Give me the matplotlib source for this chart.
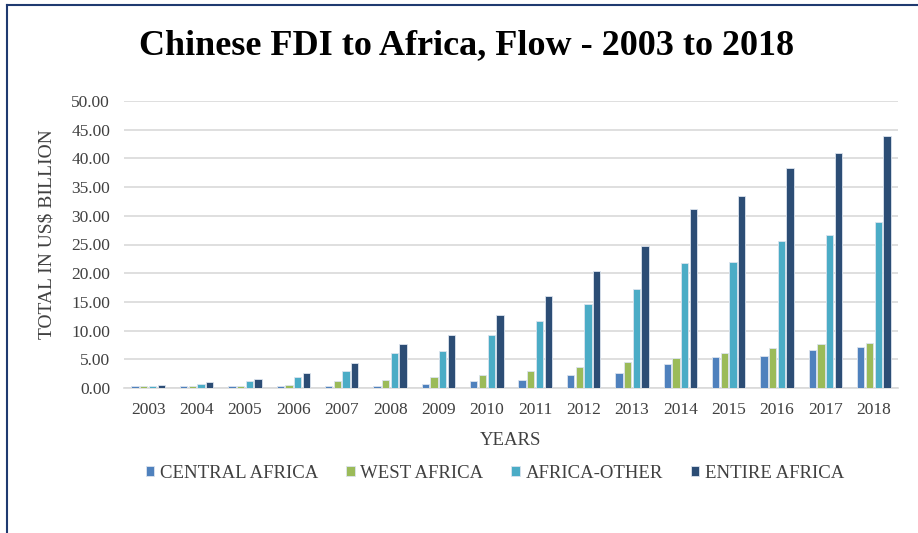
import matplotlib
matplotlib.use("Agg")
import matplotlib.pyplot as plt
import numpy as np
from matplotlib.lines import Line2D

years = ["2003", "2004", "2005", "2006", "2007", "2008", "2009", "2010",
         "2011", "2012", "2013", "2014", "2015", "2016", "2017", "2018"]
central_africa = [0.3, 0.3, 0.3, 0.3, 0.3, 0.3, 0.75, 1.2, 1.4, 2.3, 2.7, 4.1, 5.4, 5.6, 6.6, 7.2]
west_africa = [0.3, 0.3, 0.3, 0.5, 1.2, 1.4, 1.9, 2.3, 3.0, 3.7, 4.5, 5.2, 6.1, 7.0, 7.7, 7.9]
africa_other = [0.3, 0.75, 1.2, 1.9, 3.0, 6.1, 6.5, 9.2, 11.7, 14.6, 17.2, 21.7, 21.9, 25.6, 26.7, 28.9]
entire_africa = [0.5, 1.0, 1.6, 2.6, 4.4, 7.7, 9.2, 12.8, 16.0, 20.4, 24.7, 31.1, 33.4, 38.3, 41.0, 43.9]
series_names = ["CENTRAL AFRICA", "WEST AFRICA", "AFRICA-OTHER", "ENTIRE AFRICA"]
colors = ["#4F81BD", "#9BBB59", "#4BACC6", "#2C4D75"]
yticks = np.arange(0, 50.01, 5)

serif = ["Liberation Serif", "DejaVu Serif"]
plt.rcParams["font.family"] = serif

fig = plt.figure(figsize=(9.18, 5.33), dpi=100)
ax = fig.add_axes([124 / 918, 1 - 388 / 533, (898 - 124) / 918, (388 - 101) / 533])

x = np.arange(len(years))
width = 0.15
step = 0.18
offsets = (np.arange(4) - 1.5) * step
for data, name, col, off in zip([central_africa, west_africa, africa_other, entire_africa],
                                 series_names, colors, offsets):
    ax.bar(x + off, data, width=width, color=col, label=name,
           edgecolor="#DCE4EE", linewidth=0.6, zorder=3)

ax.set_xlim(-0.5, len(years) - 0.5)
ax.set_ylim(0, 50)
ax.set_yticks(yticks)
ax.set_yticklabels([f"{v:.2f}" for v in yticks], fontsize=12.5, color="#404040")
ax.set_xticks(x)
ax.set_xticklabels(years, fontsize=12.5, color="#404040")
ax.tick_params(axis="y", length=0, pad=10)
ax.tick_params(axis="x", length=0, pad=10)
ax.yaxis.grid(True, color="#D9D9D9", linewidth=1.2, zorder=0)
for s in ["top", "right", "left"]:
    ax.spines[s].set_visible(False)
ax.spines["bottom"].set_color("#D9D9D9")
ax.spines["bottom"].set_linewidth(1.2)

ax.set_ylabel("TOTAL IN US$ BILLION", fontsize=14, color="#404040")
ax.yaxis.set_label_coords(-0.089, 0.535)
ax.set_xlabel("YEARS", fontsize=13.5, color="#404040", labelpad=10)

fig.text(467 / 918, 1 - 46 / 533, "Chinese FDI to Africa, Flow - 2003 to 2018",
         ha="center", va="center", fontsize=26, fontweight="bold", color="#000000")

leg = fig.legend(loc="center", bbox_to_anchor=(495 / 918, 1 - 473 / 533), ncol=4,
                 frameon=False, fontsize=13.5, handlelength=0.45, handleheight=0.45,
                 handletextpad=0.3, columnspacing=1.5)
for t in leg.get_texts():
    t.set_color("#404040")

border_col = "#1F3A70"
fig.add_artist(Line2D([7 / 918, 1], [1 - 5 / 533, 1 - 5 / 533], transform=fig.transFigure,
                      color=border_col, linewidth=1.5))
fig.add_artist(Line2D([7 / 918, 7 / 918], [1 - 5 / 533, 0], transform=fig.transFigure,
                      color=border_col, linewidth=1.5))

fig.savefig("out.png", dpi=100, facecolor="white")
